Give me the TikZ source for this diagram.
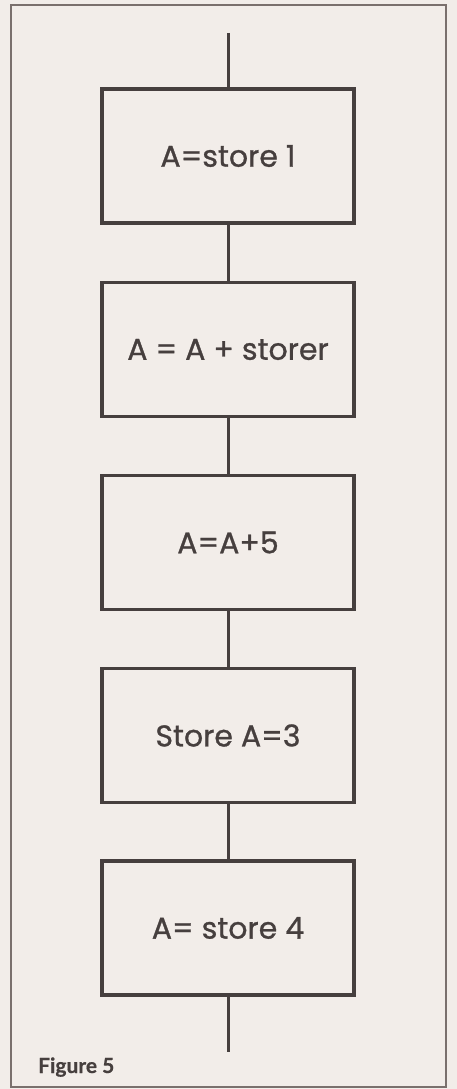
\documentclass[tikz,border=0pt]{standalone}
\usepackage{fontspec}
\setmainfont{Poppins}
\newfontfamily\boxfont{Poppins}[FakeBold=0.9]
\newfontfamily\figfont{Lato}[BoldFeatures={FakeBold=0.6}]
\definecolor{paper}{HTML}{F2EDE9}
\definecolor{ink}{HTML}{463F3E}
\definecolor{frame}{HTML}{7A706D}
\begin{document}
\begin{tikzpicture}[x=1pt,y=-1pt,
  stepbox/.style={draw=ink,line width=3.2pt,minimum width=252pt,minimum height=134pt,
    inner sep=0pt,font=\boxfont\fontsize{30}{34}\selectfont,text=ink},
  link/.style={draw=ink,line width=3pt}]
\useasboundingbox (0,0) rectangle (457,1089);
\fill[paper] (0,0) rectangle (457,1089);
\draw[frame,line width=1.8pt] (11,5) rectangle (446,1087);
\node[stepbox] (b1) at (228,156) {A=store 1};
\node[stepbox] (b2) at (228,349.5) {A = A + storer};
\node[stepbox] (b3) at (228,542.5) {A=A+5};
\node[stepbox] (b4) at (228,735.5) {Store A=3};
\node[stepbox] (b5) at (228,928) {A= store 4};
\coordinate (top) at (228,33);
\coordinate (bot) at (228,1052);
\draw[link] (top) -- (b1.north);
\draw[link] (b1.south) -- (b2.north);
\draw[link] (b2.south) -- (b3.north);
\draw[link] (b3.south) -- (b4.north);
\draw[link] (b4.south) -- (b5.north);
\draw[link] (b5.south) -- (bot);
\node[anchor=base west,inner sep=0pt,text=ink,font=\figfont\bfseries\fontsize{21}{24}\selectfont] (cap) at (38,1073) {Figure 5};
\end{tikzpicture}
\end{document}
